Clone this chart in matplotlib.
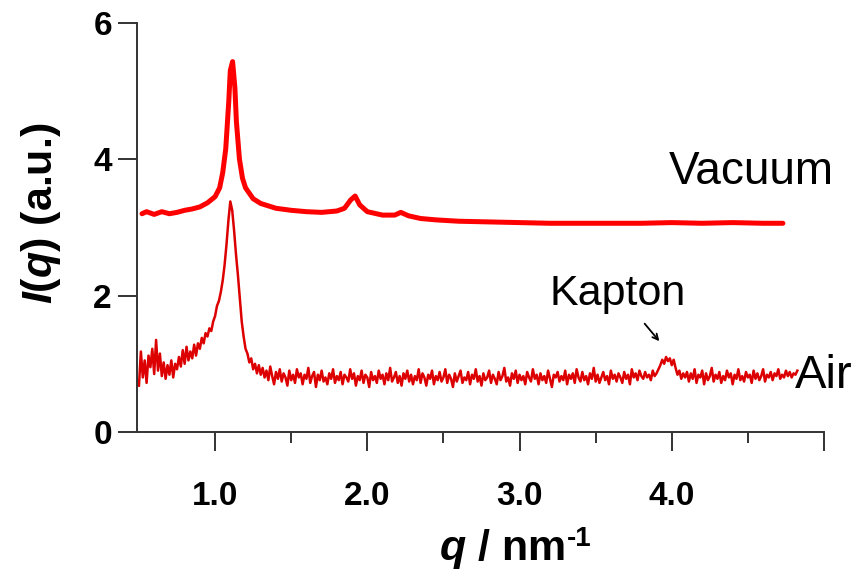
import numpy as np
import matplotlib.pyplot as plt

plt.rcParams['font.family'] = ['Liberation Sans', 'DejaVu Sans']
plt.rcParams['mathtext.fontset'] = 'custom'
plt.rcParams['mathtext.rm'] = 'Liberation Sans:bold'
plt.rcParams['mathtext.it'] = 'Liberation Sans:italic:bold'
plt.rcParams['mathtext.bf'] = 'Liberation Sans:bold'

# Vacuum curve
q_vac = [0.52, 0.55, 0.60, 0.65, 0.70, 0.75, 0.80, 0.85, 0.90, 0.95,
         1.00, 1.03, 1.05, 1.07, 1.09, 1.10, 1.115, 1.13, 1.14, 1.16,
         1.18, 1.20, 1.25, 1.30, 1.40, 1.50, 1.60, 1.70, 1.80, 1.85,
         1.89, 1.92, 1.95, 2.00, 2.10, 2.18, 2.22, 2.27, 2.35, 2.45,
         2.60, 2.80, 3.00, 3.20, 3.50, 3.80, 4.00, 4.20, 4.40, 4.60, 4.73]
I_vac = [3.20, 3.23, 3.19, 3.23, 3.20, 3.22, 3.25, 3.27, 3.30, 3.36,
         3.45, 3.58, 3.80, 4.15, 4.85, 5.30, 5.43, 5.05, 4.55, 4.00,
         3.72, 3.58, 3.42, 3.35, 3.28, 3.25, 3.23, 3.22, 3.24, 3.28,
         3.40, 3.46, 3.33, 3.23, 3.18, 3.18, 3.22, 3.17, 3.13, 3.11,
         3.09, 3.08, 3.07, 3.06, 3.06, 3.06, 3.07, 3.06, 3.07, 3.06, 3.06]

# Air curve, sampled every 0.0125 nm-1 from q = 0.5 (noisy trace)
q_air_start = 0.5
q_air_step = 0.0125
I_air = [
    # 0.50 - 0.99
    0.68, 1.18, 0.80, 1.05, 0.72, 1.12, 0.95, 1.22, 0.85, 1.35,
    0.90, 1.15, 0.82, 1.02, 0.78, 0.98, 0.84, 1.05, 0.80, 1.00,
    0.92, 1.10, 0.96, 1.20, 1.00, 1.25, 1.05, 1.18, 1.08, 1.28,
    1.12, 1.30, 1.22, 1.38, 1.30, 1.45, 1.40, 1.52, 1.48, 1.62,
    # 1.00 - 1.30 (main peak)
    1.70, 1.85, 1.92, 2.05, 2.22, 2.45, 2.75, 3.10, 3.38, 3.25,
    2.95, 2.60, 2.30, 1.95, 1.62, 1.40, 1.22, 1.15, 1.02, 1.08,
    0.92, 1.00, 0.86, 0.98, 0.84,
    # 1.31 - 3.89 (flat noisy baseline)
    0.94, 0.80, 0.90, 0.76, 0.96, 0.82, 0.70, 0.88, 0.78, 0.92,
    0.74, 0.86, 0.80, 0.68, 0.90, 0.76, 0.84, 0.72, 0.92, 0.80,
    0.86, 0.70, 0.84, 0.78, 0.94, 0.72, 0.82, 0.88, 0.66, 0.84,
    0.76, 0.90, 0.74, 0.80, 0.70, 0.86, 0.78, 0.92, 0.72, 0.82,
    0.76, 0.88, 0.70, 0.84, 0.80, 0.74, 0.92, 0.78, 0.86, 0.68,
    0.82, 0.76, 0.90, 0.72, 0.84, 0.80, 0.66, 0.88, 0.76, 0.82,
    0.72, 0.90, 0.78, 0.84, 0.70, 0.86, 0.76, 0.94, 0.74, 0.80,
    0.88, 0.72, 0.82, 0.68, 0.86, 0.78, 0.90, 0.74, 0.84, 0.70,
    0.82, 0.76, 0.92, 0.72, 0.86, 0.80, 0.68, 0.84, 0.78, 0.90,
    0.70, 0.82, 0.76, 0.88, 0.74, 0.80, 0.92, 0.72, 0.84, 0.78,
    0.66, 0.86, 0.74, 0.82, 0.90, 0.72, 0.80, 0.76, 0.88, 0.70,
    0.84, 0.78, 0.92, 0.74, 0.82, 0.68, 0.86, 0.76, 0.80, 0.90,
    0.72, 0.84, 0.78, 0.70, 0.88, 0.76, 0.82, 0.94, 0.74, 0.80,
    0.68, 0.86, 0.78, 0.90, 0.72, 0.84, 0.76, 0.82, 0.70, 0.88,
    0.80, 0.74, 0.92, 0.78, 0.84, 0.70, 0.86, 0.76, 0.82, 0.72,
    0.90, 0.78, 0.66, 0.84, 0.80, 0.88, 0.74, 0.82, 0.76, 0.90,
    0.70, 0.84, 0.78, 0.86, 0.72, 0.92, 0.80, 0.74, 0.88, 0.76,
    0.82, 0.70, 0.86, 0.78, 0.94, 0.74, 0.84, 0.72, 0.80, 0.88,
    0.76, 0.82, 0.70, 0.90, 0.78, 0.84, 0.74, 0.86, 0.80, 0.72,
    0.88, 0.78, 0.84, 0.70, 0.92, 0.80, 0.86, 0.76, 0.90, 0.82,
    0.78, 0.88, 0.80, 0.84, 0.76, 0.90, 0.82,
    # 3.90 - 4.10 (Kapton bump)
    0.86, 0.92, 0.98, 1.06, 1.00, 1.10, 1.04, 1.08, 0.98, 1.06,
    0.94, 0.84, 0.90, 0.78, 0.86, 0.80, 0.88,
    # 4.11 - 4.83
    0.74, 0.86, 0.78, 0.92, 0.72, 0.84, 0.80, 0.90, 0.70, 0.86,
    0.76, 0.82, 0.94, 0.74, 0.84, 0.78, 0.88, 0.72, 0.82, 0.76,
    0.90, 0.80, 0.86, 0.70, 0.84, 0.78, 0.92, 0.76, 0.82, 0.74,
    0.88, 0.80, 0.84, 0.72, 0.90, 0.78, 0.86, 0.76, 0.82, 0.92,
    0.74, 0.84, 0.80, 0.88, 0.76, 0.86, 0.82, 0.92, 0.78, 0.84,
    0.80, 0.90, 0.82, 0.88, 0.80, 0.86, 0.84, 0.90,
]
q_air = q_air_start + q_air_step * np.arange(len(I_air))

x_ticks = [1.0, 2.0, 3.0, 4.0, 5.0]
x_labels = ['1.0', '2.0', '3.0', '4.0', '']
x_minor = [1.5, 2.5, 3.5, 4.5]
y_ticks = [0, 2, 4, 6]

fig = plt.figure(figsize=(8.53, 5.71), dpi=100)
ax = fig.add_axes([0.1606, 0.2434, 0.8054, 0.7168])

ax.plot(q_air, I_air, color='#dd0000', lw=1.8)
ax.plot(q_vac, I_vac, color='#ff0000', lw=3.6, solid_capstyle='round')

ax.set_xlim(0.487, 5.0)
ax.set_ylim(0, 6)
ax.set_xticks(x_ticks)
ax.set_xticklabels(x_labels)
ax.set_xticks(x_minor, minor=True)
ax.set_yticks(y_ticks)

for s in ['top', 'right']:
    ax.spines[s].set_visible(False)
for s in ['left', 'bottom']:
    ax.spines[s].set_color('#333333')
    ax.spines[s].set_linewidth(1.4)

ax.tick_params(axis='both', which='major', direction='out', length=14,
               width=1.4, color='#333333', labelsize=24)
ax.tick_params(axis='x', which='minor', direction='out', length=8,
               width=1.4, color='#333333')
ax.tick_params(axis='x', which='major', pad=21)
ax.tick_params(axis='y', which='major', pad=4)
for lab in ax.get_xticklabels() + ax.get_yticklabels():
    lab.set_fontweight('bold')

fig.text(41 / 853, 1 - 213 / 571, r'$I(q)$ (a.u.)', rotation=90,
         ha='center', va='center', fontsize=31, fontweight='bold')
# x label: "q / nm" with a short "-1" superscript
fig.text(565 / 853, 1 - 560 / 571, r'$q$ / nm', ha='right', va='baseline',
         fontsize=31, fontweight='bold')
fig.text(567 / 853, 1 - 546 / 571, '-1', ha='left', va='baseline',
         fontsize=20, fontweight='bold')

fig.text(751 / 853, 1 - 184 / 571, 'Vacuum', ha='center', va='baseline',
         fontsize=33)
fig.text(618 / 853, 1 - 305 / 571, 'Kapton', ha='center', va='baseline',
         fontsize=31)
fig.text(795 / 853, 1 - 388 / 571, 'Air', ha='left', va='baseline',
         fontsize=34)
ax.annotate('', xy=(3.93, 1.30), xytext=(3.81, 1.62),
            arrowprops=dict(arrowstyle='->', color='black', lw=1.3))

fig.savefig('out.png', dpi=100)
